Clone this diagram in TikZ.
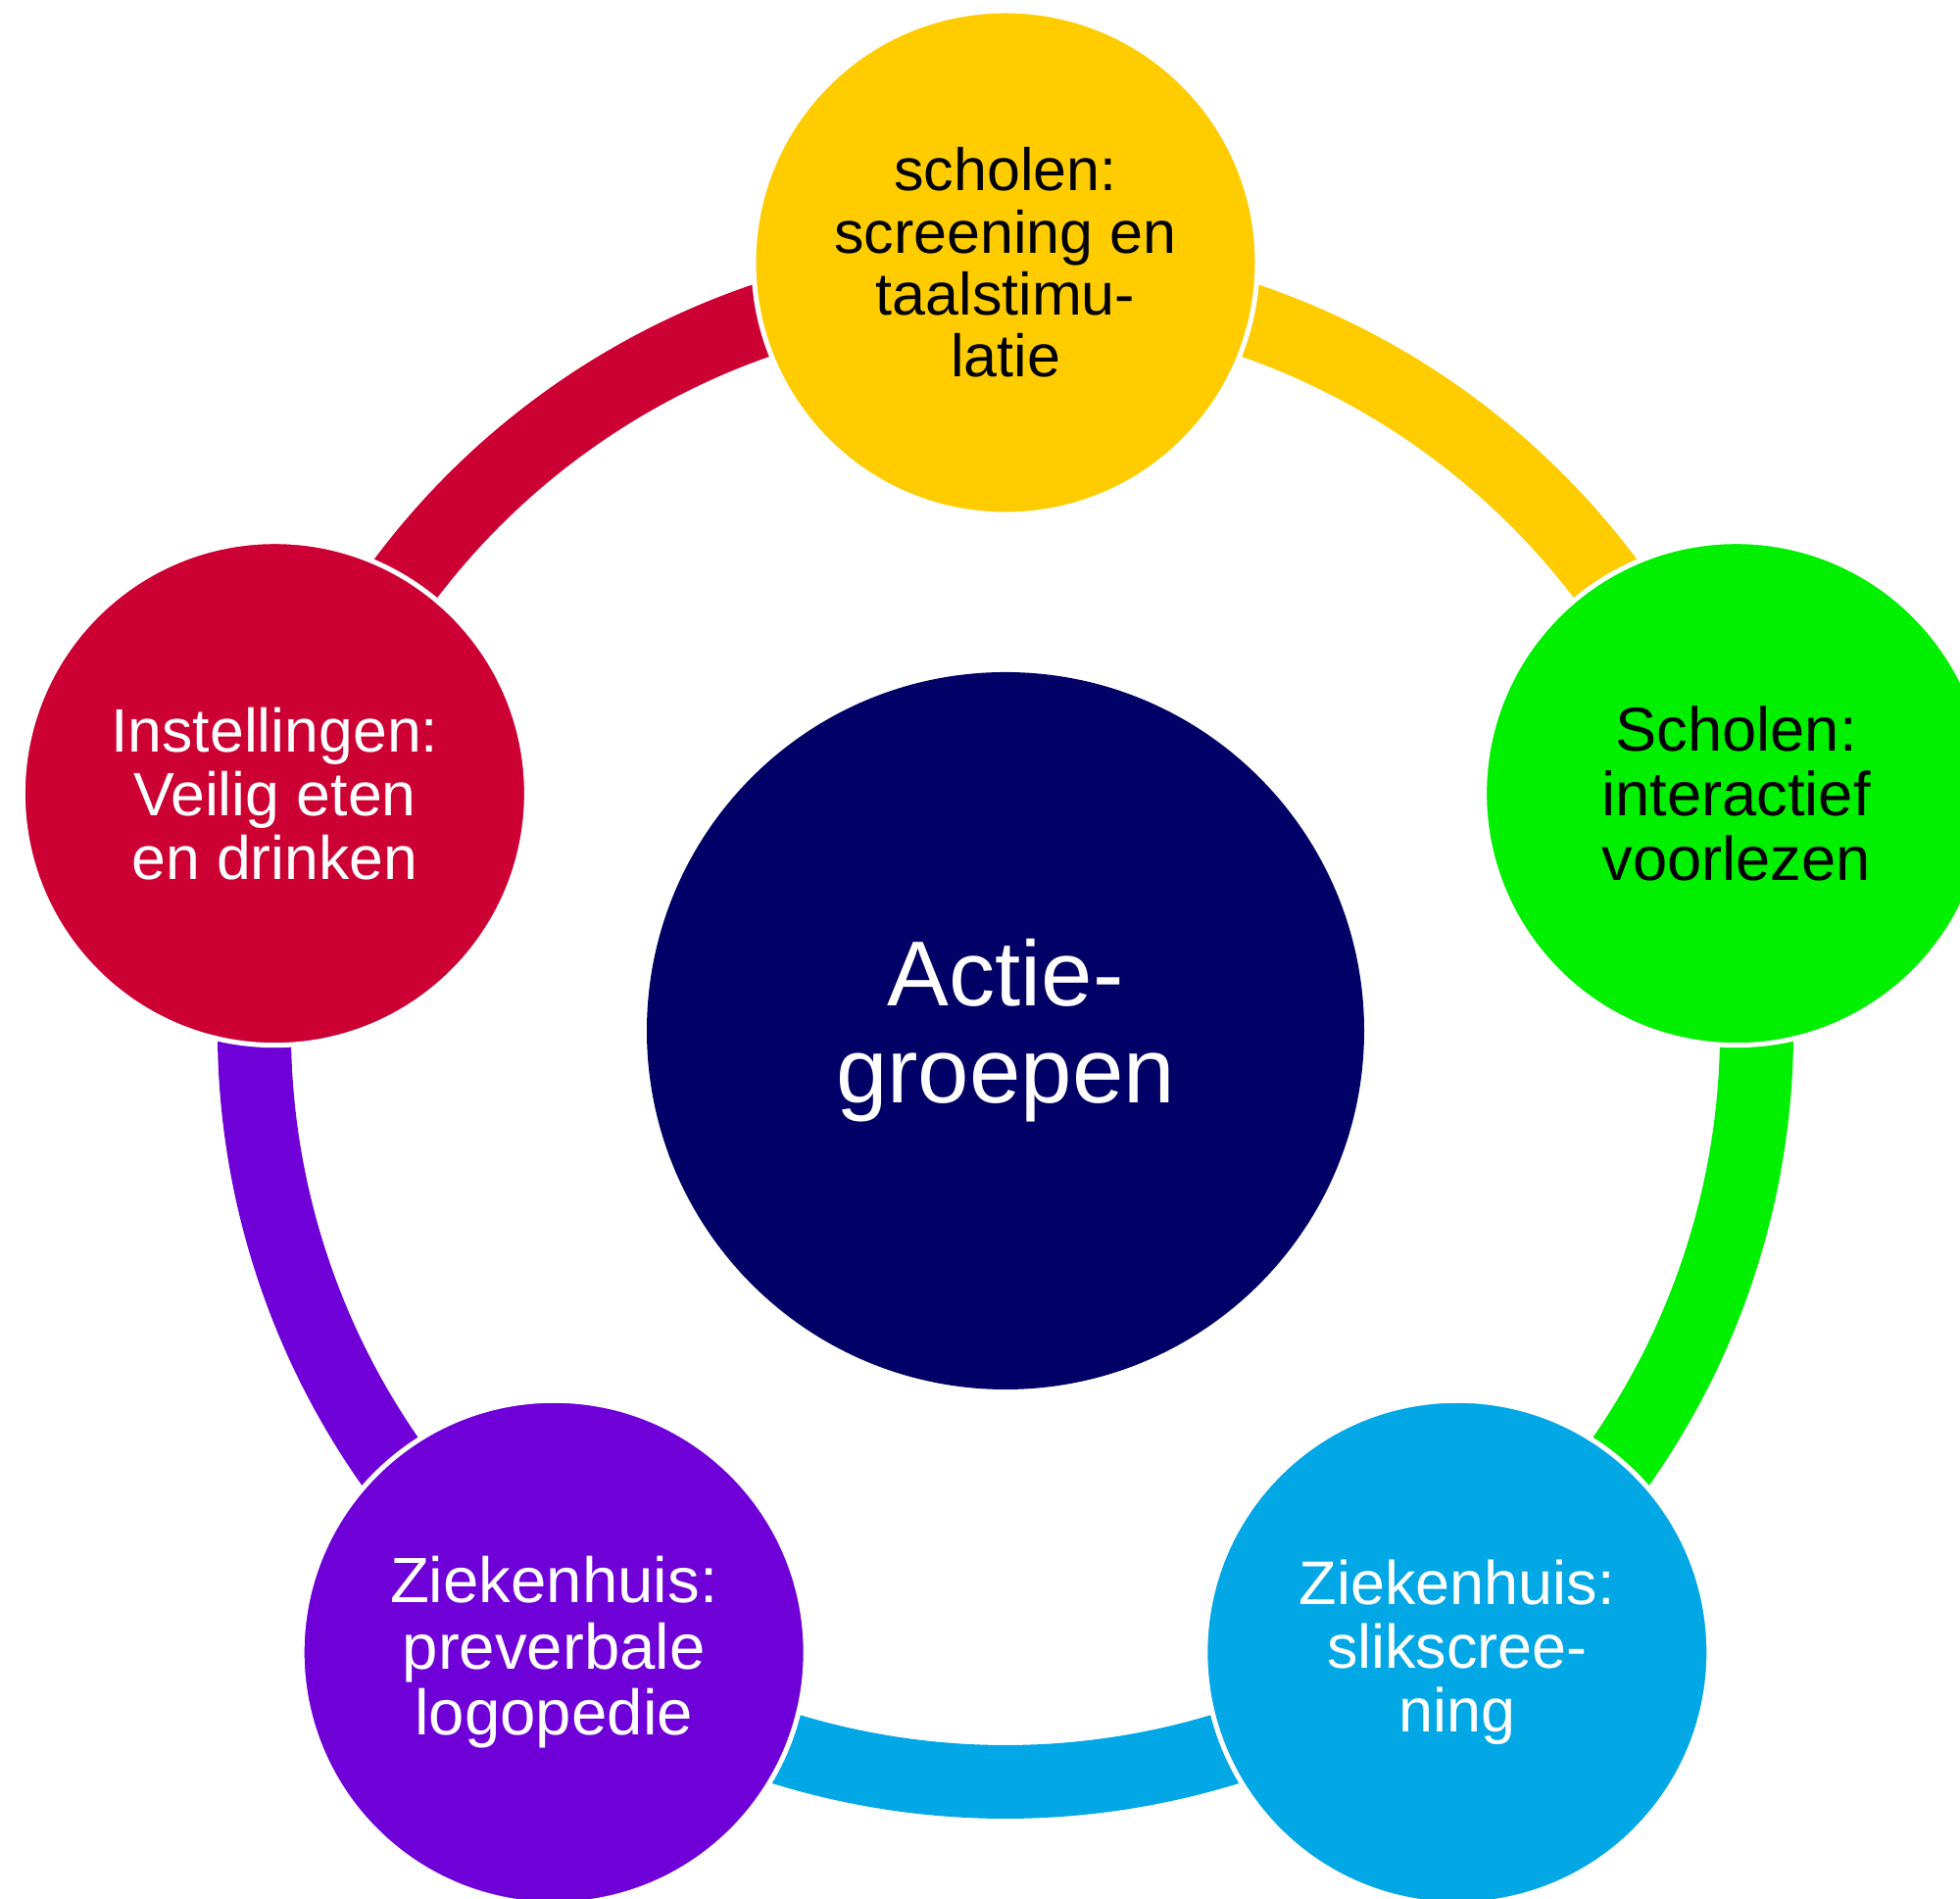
\documentclass[tikz,border=0pt]{standalone}
\usepackage{fontspec}
\setmainfont{Liberation Sans}
\usetikzlibrary{backgrounds, calc}
\definecolor{scholgeel} {HTML}{FFCC00}
\definecolor{scholgroen}{HTML}{00F000}
\definecolor{zhblauw}   {HTML}{02A7E6}
\definecolor{zhpaars}   {HTML}{6F00D8}
\definecolor{instrood}  {HTML}{CC0033}
\definecolor{actienavy} {HTML}{000066}

\begin{document}
\begin{tikzpicture}[
    hub/.style={circle, fill=actienavy, text=white, minimum size=7.32cm,
                inner sep=0pt, align=center,
                font=\fontsize{26.8}{28.2}\selectfont},
    spoke/.style={circle, draw=white, line width=0.05cm, minimum size=5.14cm,
                  inner sep=0pt, align=center,
                  font=\fontsize{17.8}{18.5}\selectfont},
    ring/.style={line width=0.75cm, line cap=butt},
  ]
    \useasboundingbox (0,0) rectangle (20,19.38);

    \node[hub] (hub) at (10.26,8.86) {Actie-\\groepen};

    \node[spoke, fill=scholgeel, font=\fontsize{17.35}{18}\selectfont] (scholen)
      at ([shift={(90:7.84)}]hub.center)
      {scholen:\\screening en\\taalstimu-\\latie};

    \node[spoke, fill=scholgroen, font=\fontsize{18}{18.7}\selectfont] (voorlezen)
      at ([shift={(18:7.84)}]hub.center)
      {Scholen:\\interactief\\voorlezen};

    \node[spoke, fill=zhblauw, text=white, font=\fontsize{17.9}{18.6}\selectfont] (slik)
      at ([shift={(-54:7.84)}]hub.center)
      {Ziekenhuis:\\slikscree-\\ning};

    \node[spoke, fill=zhpaars, text=white, font=\fontsize{18.6}{19.3}\selectfont] (logo)
      at ([shift={(-126:7.84)}]hub.center)
      {Ziekenhuis:\\preverbale\\logopedie};

    \node[spoke, fill=instrood, text=white] (eten)
      at ([shift={(162:7.84)}]hub.center)
      {Instellingen:\\Veilig eten\\en drinken};

    % ring segments, tucked under the circles
    \begin{scope}[on background layer]
      \draw[ring, scholgeel]  ([shift={(90:7.665)}]hub.center)
        arc[start angle=90, end angle=18, radius=7.665];
      \draw[ring, scholgroen] ([shift={(18:7.665)}]hub.center)
        arc[start angle=18, end angle=-54, radius=7.665];
      \draw[ring, zhblauw]    ([shift={(-54:7.665)}]hub.center)
        arc[start angle=-54, end angle=-126, radius=7.665];
      \draw[ring, zhpaars]    ([shift={(-126:7.665)}]hub.center)
        arc[start angle=-126, end angle=-198, radius=7.665];
      \draw[ring, instrood]   ([shift={(162:7.665)}]hub.center)
        arc[start angle=162, end angle=90, radius=7.665];
    \end{scope}
  \end{tikzpicture}
\end{document}
